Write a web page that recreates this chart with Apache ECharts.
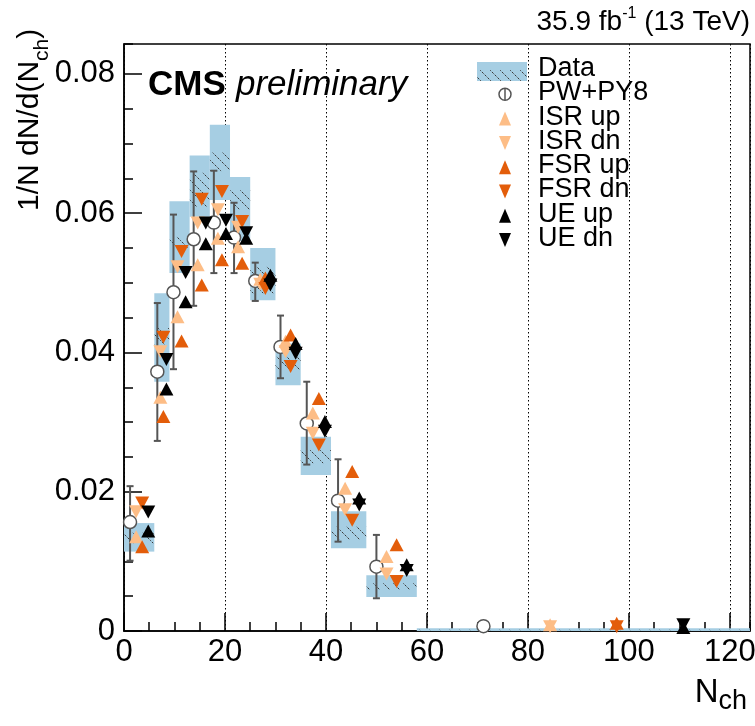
<!DOCTYPE html>
<html>
<head>
<meta charset="utf-8">
<script src="https://cdn.jsdelivr.net/npm/echarts@6/dist/echarts.min.js"></script>
<style>
html,body{margin:0;padding:0;background:#fff;}
#c{width:755px;height:726px;}
</style>
</head>
<body>
<div id="c"></div>
<script>
// ---- data ----
const binLo = [0, 6, 9, 13, 17, 21, 25, 30, 35, 41, 48, 58];
const binHi = [6, 9, 13, 17, 21, 25, 30, 35, 41, 48, 58, 124];
// Data: total uncertainty band (blue) and inner hatched band
const bandLo  = [0.0114, 0.0358, 0.0514, 0.0595, 0.0619, 0.0560, 0.0475, 0.0353, 0.0224, 0.0119, 0.0049, 0.0000];
const bandHi  = [0.0155, 0.0485, 0.0617, 0.0683, 0.0727, 0.0652, 0.0550, 0.0413, 0.0279, 0.0172, 0.0080, 0.0004];
const hatchLo = [0.0126, 0.0411, 0.0550, 0.0609, 0.0660, 0.0605, 0.0485, 0.0375, 0.0241, 0.0131, 0.0059, 0.0001];
const hatchHi = [0.0141, 0.0435, 0.0566, 0.0658, 0.0687, 0.0633, 0.0523, 0.0394, 0.0260, 0.0150, 0.0069, 0.0003];
// PW+PY8 with error bars
const pw   = [0.01565, 0.03724, 0.04865, 0.05626, 0.05865, 0.0565, 0.05027, 0.0408, 0.0298, 0.01872, 0.00924, 0.0007];
const pwLo = [0.0101, 0.0273, 0.0376, 0.0467, 0.0514, 0.0514, 0.0474, 0.0363, 0.0239, 0.01283, 0.0047, 0.0005];
const pwHi = [0.0208, 0.0471, 0.0598, 0.0660, 0.0661, 0.0615, 0.0529, 0.0453, 0.0358, 0.02466, 0.0138, 0.0009];
// variations
const isrUp = [0.01355, 0.03356, 0.04514, 0.0526, 0.0564, 0.0552, 0.0505, 0.0416, 0.0313, 0.0205, 0.0107, 0.0009];
const isrDn = [0.01714, 0.0401, 0.0523, 0.0586, 0.0605, 0.0580, 0.0498, 0.0401, 0.0284, 0.0174, 0.0082, 0.0006];
const fsrUp = [0.0121, 0.0308, 0.04165, 0.0497, 0.0533, 0.0528, 0.0507, 0.0425, 0.0334, 0.0229, 0.0124, 0.0011];
const fsrDn = [0.0184, 0.0422, 0.0545, 0.0620, 0.0631, 0.0588, 0.0492, 0.0380, 0.0267, 0.0159, 0.0071, 0.0006];
const ueUp  = [0.01436, 0.03476, 0.0473, 0.0556, 0.0571, 0.0564, 0.0511, 0.0413, 0.0301, 0.0191, 0.0095, 0.0005];
const ueDn  = [0.0171, 0.0390, 0.0515, 0.0586, 0.0590, 0.0572, 0.0497, 0.0399, 0.0287, 0.0181, 0.0087, 0.0009];
// marker placement inside each bin (fraction of bin width)
const fracPW = 0.2, fracISR = 0.4, fracFSR = 0.6, fracUE = 0.8;
const xTicks = [0, 20, 40, 60, 80, 100, 120];
const yTicks = [0, 0.02, 0.04, 0.06, 0.08];

const legendNames = ['Data', 'PW+PY8', 'ISR up', 'ISR dn', 'FSR up', 'FSR dn', 'UE up', 'UE dn'];

// ---- styles ----
const FONT = '"Liberation Sans", Arial, Helvetica, sans-serif';
const C_BAND = '#a6cee3';
const C_ISR = '#fdbd86';
const C_FSR = '#e35d0a';
const C_UE = '#000000';
const C_PW = '#555555';

function hatchPattern() {
  const c = document.createElement('canvas');
  c.width = 10; c.height = 10;
  const g = c.getContext('2d');
  g.strokeStyle = '#3a3a3a';
  g.lineWidth = 1;
  g.setLineDash([2.5, 1.5]);
  g.beginPath();
  g.moveTo(-1, -1); g.lineTo(11, 11);
  g.stroke();
  return { image: c, repeat: 'repeat' };
}
const HATCH = hatchPattern();

const pos = (i, f) => binLo[i] + f * (binHi[i] - binLo[i]);
const boxData = binLo.map((lo, i) => [lo, binHi[i], bandLo[i], bandHi[i]]);
const hatchData = binLo.map((lo, i) => [lo, binHi[i], hatchLo[i], hatchHi[i]]);
const errData = pw.map((v, i) => [pos(i, fracPW), pwLo[i], pwHi[i]]);
const pts = (arr, f) => arr.map((v, i) => [pos(i, f), v]);

function rectRender(fill) {
  return function (params, api) {
    const a = api.coord([api.value(0), api.value(3)]);
    const b = api.coord([api.value(1), api.value(2)]);
    return {
      type: 'rect',
      shape: { x: a[0], y: a[1], width: b[0] - a[0], height: Math.max(b[1] - a[1], 1) },
      style: { fill: fill, stroke: null }
    };
  };
}
function errRender(params, api) {
  const x = api.value(0);
  const a = api.coord([x, api.value(2)]);
  const b = api.coord([x, api.value(1)]);
  const w = 3.5;
  const st = { stroke: C_PW, lineWidth: 2 };
  return {
    type: 'group',
    children: [
      { type: 'line', shape: { x1: a[0], y1: a[1], x2: b[0], y2: b[1] }, style: st },
      { type: 'line', shape: { x1: a[0] - w, y1: a[1], x2: a[0] + w, y2: a[1] }, style: st },
      { type: 'line', shape: { x1: b[0] - w, y1: b[1], x2: b[0] + w, y2: b[1] }, style: st }
    ]
  };
}
function scatter(name, data, color, rot, z) {
  return {
    name: name, type: 'scatter', data: data, symbol: 'triangle', symbolSize: [14, 13],
    symbolRotate: rot, itemStyle: { color: color, opacity: 1 }, z: z, silent: true,
    xAxisIndex: 0, yAxisIndex: 0
  };
}

// ---- legend built from graphic elements ----
const legX = 505, legTextX = 538, legY0 = 70, legDY = 24.3;
const legend = [];
legendNames.forEach((n, i) => {
  legend.push({ type: 'text', left: legTextX, top: legY0 + i * legDY - 15,
    style: { text: n, font: '27px ' + FONT, fill: '#000' }, z: 100 });
});
legend.push({ type: 'rect', shape: { x: 477, y: 62, width: 50, height: 19 }, style: { fill: C_BAND }, z: 100 });
legend.push({ type: 'rect', shape: { x: 477, y: 70, width: 50, height: 11 }, style: { fill: HATCH }, z: 101 });
{
  const cy = legY0 + legDY;
  legend.push({ type: 'circle', shape: { cx: legX, cy: cy, r: 6 }, style: { fill: '#fff', stroke: C_PW, lineWidth: 1.5 }, z: 100 });
  legend.push({ type: 'line', shape: { x1: legX, y1: cy - 6, x2: legX, y2: cy + 6 }, style: { stroke: C_PW, lineWidth: 1.5 }, z: 101 });
}
function legTri(i, color, up) {
  const cy = legY0 + i * legDY, w = 6, h = 7;
  const pts = up ? [[legX, cy - h], [legX + w, cy + h], [legX - w, cy + h]]
                 : [[legX, cy + h], [legX + w, cy - h], [legX - w, cy - h]];
  legend.push({ type: 'polygon', shape: { points: pts }, style: { fill: color }, z: 100 });
}
legTri(2, C_ISR, true); legTri(3, C_ISR, false);
legTri(4, C_FSR, true); legTri(5, C_FSR, false);
legTri(6, C_UE, true); legTri(7, C_UE, false);

const chart = echarts.init(document.getElementById('c'), null, { renderer: 'canvas' });
const option = {
  animation: false,
  backgroundColor: '#fff',
  textStyle: { fontFamily: FONT },
  grid: { left: 124, top: 44, width: 626, height: 587, show: true, borderColor: '#000', borderWidth: 1.5,
    backgroundColor: 'transparent', containLabel: false, outerBoundsMode: 'none' },
  xAxis: [
    {
      type: 'value', min: 0, max: 124, interval: 20,
      axisLine: { show: true, lineStyle: { color: '#000', width: 1.5 } },
      axisTick: { show: true, inside: true, length: 18, lineStyle: { color: '#000', width: 1.5 } },
      axisLabel: { color: '#000', fontSize: 31, fontFamily: FONT, margin: 6, showMaxLabel: false, hideOverlap: false,
        formatter: v => (xTicks.indexOf(v) >= 0 ? String(v) : '') },
      splitLine: { show: true, lineStyle: { color: '#000', width: 1, type: [1.5, 2.5] } }
    },
    {
      type: 'value', min: 0, max: 124, interval: 5, position: 'bottom', gridIndex: 0,
      axisLine: { show: false },
      axisTick: { show: true, inside: true, length: 9, lineStyle: { color: '#000', width: 1.5 } },
      axisLabel: { show: false }, splitLine: { show: false }
    }
  ],
  yAxis: [
    {
      type: 'value', min: 0, max: 0.0843, interval: 0.02,
      axisLine: { show: true, lineStyle: { color: '#000', width: 1.5 } },
      axisTick: { show: true, inside: true, length: 18, lineStyle: { color: '#000', width: 1.5 } },
      axisLabel: { color: '#000', fontSize: 31, fontFamily: FONT, margin: 9, showMaxLabel: false,
        formatter: v => { const t = yTicks.find(k => Math.abs(k - v) < 1e-9); return t === undefined ? '' : (t === 0 ? '0' : t.toFixed(2)); } },
      splitLine: { show: false }
    },
    {
      type: 'value', min: 0, max: 0.0843, interval: 0.005, position: 'left', gridIndex: 0,
      axisLine: { show: false },
      axisTick: { show: true, inside: true, length: 9, lineStyle: { color: '#000', width: 1.5 } },
      axisLabel: { show: false }, splitLine: { show: false }
    }
  ],
  series: [
    { name: 'Data', type: 'custom', renderItem: rectRender(C_BAND), data: boxData,
      encode: { x: [0, 1], y: [2, 3] }, z: 1, silent: true, clip: true },
    { name: 'DataHatch', type: 'custom', renderItem: rectRender(HATCH), data: hatchData,
      encode: { x: [0, 1], y: [2, 3] }, z: 2, silent: true, clip: true },
    { name: 'PW err', type: 'custom', renderItem: errRender, data: errData,
      encode: { x: 0, y: [1, 2] }, z: 3, silent: true },
    { name: 'PW+PY8', type: 'scatter', data: pts(pw, fracPW), symbol: 'circle', symbolSize: 13,
      itemStyle: { color: '#fff', borderColor: C_PW, borderWidth: 1.5, opacity: 1 }, z: 4, silent: true },
    scatter('ISR up', pts(isrUp, fracISR), C_ISR, 0, 5),
    scatter('ISR dn', pts(isrDn, fracISR), C_ISR, 180, 5),
    scatter('FSR up', pts(fsrUp, fracFSR), C_FSR, 0, 6),
    scatter('FSR dn', pts(fsrDn, fracFSR), C_FSR, 180, 6),
    scatter('UE up', pts(ueUp, fracUE), C_UE, 0, 7),
    scatter('UE dn', pts(ueDn, fracUE), C_UE, 180, 7)
  ],
  graphic: [
    { type: 'text', right: 5, top: 6,
      style: { text: '{a|35.9 fb}{s|-1}{a| (13 TeV)}', font: '28px ' + FONT, fill: '#000',
        rich: { a: { fontSize: 28, fontFamily: FONT, lineHeight: 32 }, s: { fontSize: 16, fontFamily: FONT, verticalAlign: 'top', lineHeight: 32, padding: [0, 0, 10, 0] } } } },
    { type: 'text', left: 148, top: 68,
      style: { text: 'CMS', font: 'bold 35px ' + FONT, fill: '#000' }, z: 100 },
    { type: 'text', left: 236, top: 68,
      style: { text: 'preliminary', font: 'italic 35px ' + FONT, fill: '#000' }, z: 100 },
    { type: 'text', right: 8, top: 676,
      style: { text: '{n|N}{s|ch}', rich: { n: { fontSize: 33, fontFamily: FONT, lineHeight: 46, verticalAlign: 'middle' }, s: { fontSize: 27, fontFamily: FONT, lineHeight: 27, verticalAlign: 'bottom' } } } },
    { type: 'text', x: 7, y: 211, rotation: Math.PI / 2, originX: 0, originY: 0,
      style: { text: '{n|1/N dN/d(N}{s|ch}{n|)}', rich: { n: { fontSize: 30, fontFamily: FONT, lineHeight: 46, verticalAlign: 'middle' }, s: { fontSize: 21, fontFamily: FONT, lineHeight: 21, verticalAlign: 'bottom' } } } }
  ].concat(legend)
};
chart.setOption(option);
</script>
</body>
</html>
